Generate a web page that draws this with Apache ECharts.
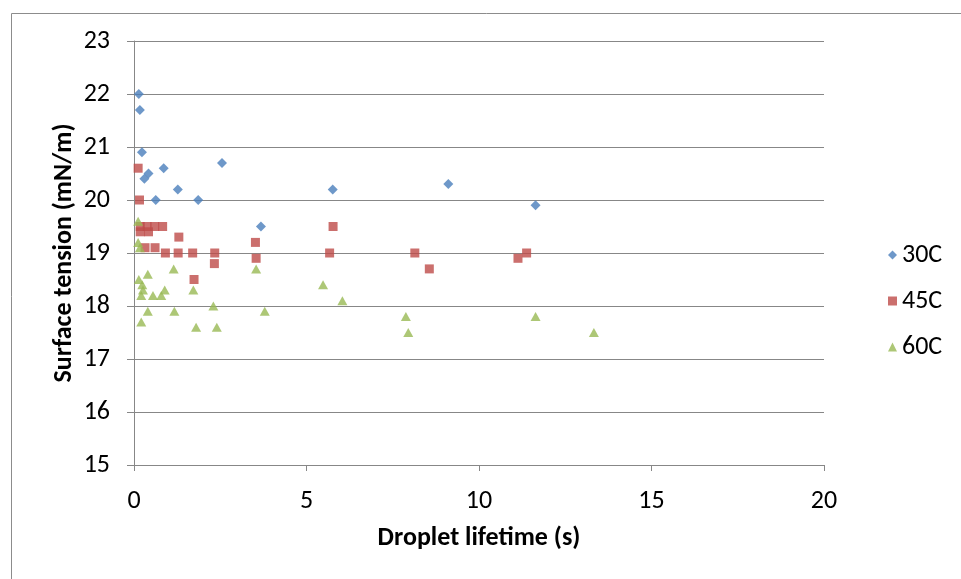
<!DOCTYPE html>
<html>
<head>
<meta charset="utf-8">
<script src="https://cdn.jsdelivr.net/npm/echarts@6/dist/echarts.min.js"></script>
<style>
html, body { margin: 0; padding: 0; background: #fff; }
#chart { width: 961px; height: 579px; }
</style>
</head>
<body>
<div id="chart"></div>
<script>
// droplet lifetime (s) and surface tension (mN/m)
var t30 = [0.14, 0.17, 0.23, 0.30, 0.42, 0.63, 0.86, 1.27, 1.86, 2.55, 3.68, 5.76, 9.11, 11.64];
var s30 = [22.0, 21.7, 20.9, 20.4, 20.5, 20.0, 20.6, 20.2, 20.0, 20.7, 19.5, 20.2, 20.3, 19.9];

var t45 = [0.12, 0.16, 0.18, 0.38, 0.60, 0.83, 0.18, 0.42, 1.30, 0.32, 0.61, 0.91, 1.28, 1.70, 2.34, 2.33, 1.74, 3.52, 3.54, 5.77, 5.67, 8.14, 8.56, 11.13, 11.38];
var s45 = [20.6, 20.0, 19.5, 19.5, 19.5, 19.5, 19.4, 19.4, 19.3, 19.1, 19.1, 19.0, 19.0, 19.0, 19.0, 18.8, 18.5, 19.2, 18.9, 19.5, 19.0, 19.0, 18.7, 18.9, 19.0];

var t60 = [0.12, 0.12, 0.17, 0.14, 0.40, 1.15, 0.24, 0.26, 0.21, 0.55, 0.79, 0.89, 0.40, 1.17, 0.21, 1.72, 2.30, 1.80, 2.40, 3.54, 3.79, 5.48, 6.04, 7.88, 7.95, 11.64, 13.33];
var s60 = [19.6, 19.2, 19.1, 18.5, 18.6, 18.7, 18.4, 18.3, 18.2, 18.2, 18.2, 18.3, 17.9, 17.9, 17.7, 18.3, 18.0, 17.6, 17.6, 18.7, 17.9, 18.4, 18.1, 17.8, 17.5, 17.8, 17.5];

var seriesNames = ['30C', '45C', '60C'];
var colors = ['#4A7EBB', '#BE4B48', '#98B954'];

function pairs(xs, ys) {
    var out = [];
    for (var i = 0; i < xs.length; i++) out.push([xs[i], ys[i]]);
    return out;
}

var font = 'Carlito, Lato, sans-serif';
var gridColor = '#878787';

var chart = echarts.init(document.getElementById('chart'));
chart.setOption({
    animation: false,
    color: colors,
    graphic: [{
        type: 'rect',
        left: 9, top: 11,
        shape: { width: 1000, height: 1000 },
        style: { fill: 'none', stroke: '#8c8c8c', lineWidth: 1 },
        silent: true
    }],
    grid: { left: 134, right: 137, top: 41, bottom: 114 },
    legend: {
        orient: 'vertical',
        left: 883,
        top: 236,
        itemWidth: 9,
        itemHeight: 9,
        itemGap: 18,
        textStyle: { fontFamily: font, fontSize: 26, color: '#000', lineHeight: 28 },
        data: [
            { name: '30C', icon: 'diamond' },
            { name: '45C', icon: 'rect' },
            { name: '60C', icon: 'triangle' }
        ]
    },
    xAxis: {
        type: 'value',
        min: 0, max: 20, interval: 5,
        name: 'Droplet lifetime (s)',
        nameLocation: 'middle',
        nameGap: 60,
        nameTextStyle: { fontFamily: font, fontSize: 26, fontWeight: 'bold', color: '#000' },
        axisLine: { lineStyle: { color: gridColor } },
        axisTick: { show: true, length: 6, lineStyle: { color: gridColor } },
        axisLabel: { fontFamily: font, fontSize: 26, color: '#000', margin: 23 },
        splitLine: { show: false }
    },
    yAxis: {
        type: 'value',
        min: 15, max: 23, interval: 1,
        name: 'Surface tension (mN/m)',
        nameLocation: 'middle',
        nameGap: 57,
        nameMoveOverlap: false,
        nameTextStyle: { fontFamily: font, fontSize: 26, fontWeight: 'bold', color: '#000' },
        axisLine: { show: true, lineStyle: { color: gridColor } },
        axisTick: { show: true, length: 7, lineStyle: { color: gridColor } },
        axisLabel: { fontFamily: font, fontSize: 26, color: '#000', margin: 24 },
        splitLine: { lineStyle: { color: gridColor, width: 1 } }
    },
    series: [{
        name: seriesNames[0],
        type: 'scatter',
        symbol: 'diamond',
        symbolSize: 10,
        data: pairs(t30, s30)
    }, {
        name: seriesNames[1],
        type: 'scatter',
        symbol: 'rect',
        symbolSize: 9,
        data: pairs(t45, s45)
    }, {
        name: seriesNames[2],
        type: 'scatter',
        symbol: 'triangle',
        symbolSize: [10, 9],
        data: pairs(t60, s60)
    }]
});
</script>
</body>
</html>
